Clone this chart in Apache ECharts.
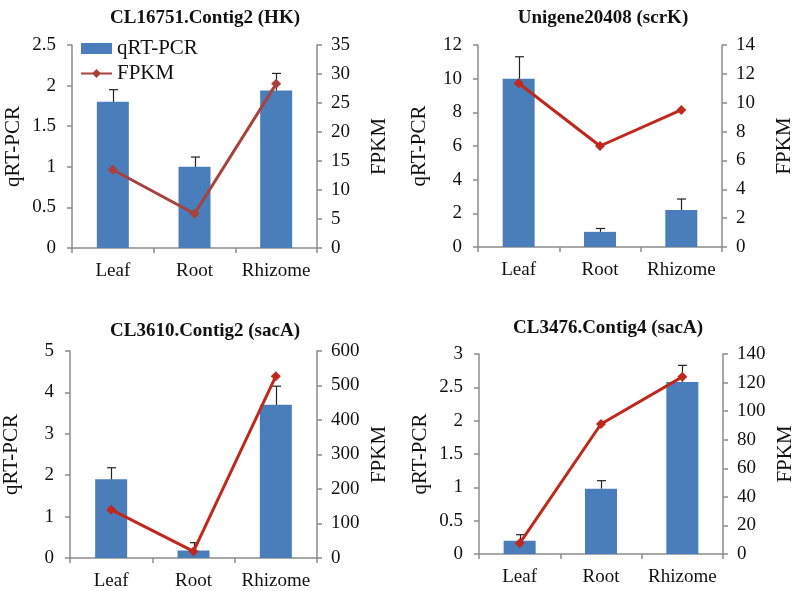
<!DOCTYPE html>
<html><head><meta charset="utf-8">
<script src="https://cdn.jsdelivr.net/npm/echarts@6/dist/echarts.min.js"></script>
<style>html,body{margin:0;padding:0;background:#fff}#c{width:797px;height:591px}</style>
</head><body><div id="c"></div>
<script>
const categories = ['Leaf', 'Root', 'Rhizome'];
const titles = ['CL16751.Contig2 (HK)', 'Unigene20408 (scrK)', 'CL3610.Contig2 (sacA)', 'CL3476.Contig4 (sacA)'];
const qpcr1 = [1.80, 1.00, 1.94];
const qpcrTop1 = [1.95, 1.12, 2.15];
const fpkm1 = [13.5, 5.9, 28.3];
const qpcr2 = [10.0, 0.9, 2.2];
const qpcrTop2 = [11.3, 1.1, 2.85];
const fpkm2 = [11.35, 7.0, 9.5];
const qpcr3 = [1.9, 0.18, 3.7];
const qpcrTop3 = [2.18, 0.37, 4.15];
const fpkm3 = [140, 19, 527];
const qpcr4 = [0.2, 0.98, 2.58];
const qpcrTop4 = [0.29, 1.1, 2.83];
const fpkm4 = [7.5, 91, 124];
const leftAxes = [[0, 2.5, 0.5], [0, 12, 2], [0, 5, 1], [0, 3, 0.5]];
const rightAxes = [[0, 35, 5], [0, 14, 2], [0, 600, 100], [0, 140, 20]];

const panels = [
  {q: qpcr1, top: qpcrTop1, f: fpkm1},
  {q: qpcr2, top: qpcrTop2, f: fpkm2},
  {q: qpcr3, top: qpcrTop3, f: fpkm3},
  {q: qpcr4, top: qpcrTop4, f: fpkm4}
];
const grids = [
  {left: 72, width: 245, top: 45, height: 203},
  {left: 478, width: 244, top: 45, height: 202},
  {left: 70, width: 247, top: 351, height: 207},
  {left: 479, width: 247, top: 354, height: 200}
];
const titlePos = [[200, 4], [598, 4], [200, 317], [603, 314]];
const lineColors = ['#a8413d', '#c0281c', '#c0281c', '#c0281c'];
const FONT = '"Liberation Serif", "Times New Roman", serif';
const axisLine = {show: true, lineStyle: {color: '#8c8c8c', width: 1.5}};

const option = {
  animation: false,
  textStyle: {fontFamily: FONT},
  title: titles.map((t, i) => ({
    text: t, left: titlePos[i][0], top: titlePos[i][1], textAlign: 'center',
    textStyle: {fontFamily: FONT, fontWeight: 'bold', fontSize: 19, color: '#111'}
  })),
  legend: {
    orient: 'vertical', left: 75, top: 33, itemGap: 4, itemWidth: 31, itemHeight: 11,
    textStyle: {fontFamily: FONT, fontSize: 21, color: '#111'},
    data: [{name: 'qRT-PCR', icon: 'rect'}, {name: 'FPKM'}]
  },
  grid: grids,
  xAxis: grids.map((g, i) => ({
    type: 'category', gridIndex: i, data: categories,
    axisLine: axisLine,
    axisTick: {show: true, inside: false, length: 5, alignWithLabel: false, lineStyle: {color: '#8c8c8c', width: 1.5}},
    axisLabel: {fontFamily: FONT, fontSize: 19, color: '#111', margin: 14, interval: 0, hideOverlap: false}
  })),
  yAxis: [],
  series: []
};

panels.forEach((p, i) => {
  const la = leftAxes[i], ra = rightAxes[i];
  option.yAxis.push({
    type: 'value', gridIndex: i, position: 'left', min: la[0], max: la[1], interval: la[2],
    name: 'qRT-PCR', nameLocation: 'middle', nameGap: 48, nameRotate: 90,
    nameTextStyle: {fontFamily: FONT, fontSize: 21, color: '#111'},
    axisLine: axisLine, splitLine: {show: false},
    axisTick: {show: true, length: 5, lineStyle: {color: '#8c8c8c', width: 1.5}},
    axisLabel: {fontFamily: FONT, fontSize: 19, color: '#111', margin: 16}
  });
  option.yAxis.push({
    type: 'value', gridIndex: i, position: 'right', min: ra[0], max: ra[1], interval: ra[2],
    name: 'FPKM', nameLocation: 'middle', nameGap: 52, nameRotate: 90,
    nameTextStyle: {fontFamily: FONT, fontSize: 21, color: '#111'},
    axisLine: axisLine, splitLine: {show: false},
    axisTick: {show: true, length: 5, lineStyle: {color: '#8c8c8c', width: 1.5}},
    axisLabel: {fontFamily: FONT, fontSize: 19, color: '#111', margin: 14}
  });
  option.series.push({
    name: 'qRT-PCR', type: 'bar', xAxisIndex: i, yAxisIndex: 2 * i, data: p.q,
    barWidth: 32, itemStyle: {color: '#4a7ebb'}
  });
  option.series.push({
    name: 'qRT-PCR-err', type: 'custom', xAxisIndex: i, yAxisIndex: 2 * i,
    data: p.q.map((v, k) => [k, v, p.top[k]]),
    renderItem: function (params, api) {
      const base = api.coord([api.value(0), api.value(1)]);
      const top = api.coord([api.value(0), api.value(2)]);
      const x = Math.round(base[0]) + 0.5;
      return {
        type: 'group', children: [
          {type: 'line', shape: {x1: x, y1: base[1], x2: x, y2: top[1]}, style: {stroke: '#222', lineWidth: 1.2}},
          {type: 'line', shape: {x1: x - 4.5, y1: top[1], x2: x + 4.5, y2: top[1]}, style: {stroke: '#222', lineWidth: 1.2}}
        ]
      };
    },
    z: 3
  });
  option.series.push({
    name: 'FPKM', type: 'line', xAxisIndex: i, yAxisIndex: 2 * i + 1, data: p.f,
    symbol: 'diamond', symbolSize: 10, lineStyle: {color: lineColors[i], width: 3},
    itemStyle: {color: lineColors[i]}, z: 5
  });
});

const chart = echarts.init(document.getElementById('c'), null, {renderer: 'canvas'});
chart.setOption(option);
</script>
</body></html>
